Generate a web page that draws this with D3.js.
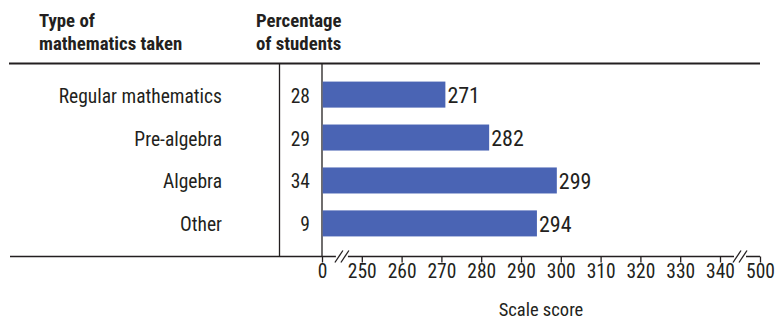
<!DOCTYPE html>
<html><head><meta charset="utf-8">
<script src="https://cdn.jsdelivr.net/npm/d3@7"></script>
<style>
body{margin:0;background:#fff;}
text{font-family:"Roboto Condensed","DejaVu Sans Condensed",sans-serif;fill:#231f20;}
</style></head>
<body><svg id="c" width="775" height="320"></svg>
<script>
const categories = ["Regular mathematics","Pre-algebra","Algebra","Other"];
const percentages = [28, 29, 34, 9];
const scores = [271, 282, 299, 294];
const tickValues = [0,250,260,270,280,290,300,310,320,330,340,500];

const svg = d3.select("#c");
const ink = "#231f20";
const barColor = "#4a64b4";

// broken axis: 0 -> break -> 250..340 -> break -> 500
const x = d3.scaleLinear().domain([0,240,340,500]).range([322,322,720,760]);
const y = d3.scaleBand().domain(categories).range([73,245]).paddingInner(0.394).paddingOuter(0.2);

// header
const hdr = svg.append("g").style("font-weight","bold").style("font-size","18.8px");
hdr.append("text").attr("x",39).attr("y",27).text("Type of");
hdr.append("text").attr("x",39).attr("y",50).text("mathematics taken");
hdr.append("text").attr("x",256).attr("y",27).text("Percentage");
hdr.append("text").attr("x",256).attr("y",50).text("of students");

// frame lines
svg.append("line").attr("x1",9).attr("x2",760).attr("y1",63.5).attr("y2",63.5).attr("stroke",ink).attr("stroke-width",2);
svg.append("line").attr("x1",279.5).attr("x2",279.5).attr("y1",63).attr("y2",257).attr("stroke",ink).attr("stroke-width",1.3);
svg.append("line").attr("x1",x(0)).attr("x2",x(0)).attr("y1",63).attr("y2",257).attr("stroke",ink).attr("stroke-width",1.3);

// bars
svg.selectAll("rect.bar").data(categories).enter().append("rect")
  .attr("class","bar")
  .attr("x",x(0)+0.7)
  .attr("y",d=>y(d))
  .attr("width",(d,i)=>x(scores[i])-x(0)-0.7)
  .attr("height",y.bandwidth())
  .attr("fill",barColor);

// value labels
svg.selectAll("text.val").data(categories).enter().append("text")
  .attr("class","val")
  .attr("x",(d,i)=>x(scores[i])+2)
  .attr("y",d=>y(d)+y.bandwidth()/2+8.5)
  .style("font-size","22px")
  .text((d,i)=>scores[i]);

// category labels
svg.selectAll("text.cat").data(categories).enter().append("text")
  .attr("class","cat")
  .attr("x",222).attr("text-anchor","end")
  .attr("y",d=>y(d)+y.bandwidth()/2+8)
  .style("font-size","19.5px")
  .text(d=>d);

// percentages
svg.selectAll("text.pct").data(categories).enter().append("text")
  .attr("class","pct")
  .attr("x",310).attr("text-anchor","end")
  .attr("y",d=>y(d)+y.bandwidth()/2+8)
  .style("font-size","19.5px")
  .text((d,i)=>percentages[i]);

// bottom axis
const axisY = 256.5;
const axis = d3.axisBottom(x).tickValues(tickValues).tickSize(6).tickPadding(1.5).tickFormat(d3.format("d"));
const ga = svg.append("g").attr("transform",`translate(0,${axisY})`).call(axis);
ga.attr("font-family",null).attr("font-size",null);
ga.select(".domain").remove();
ga.selectAll(".tick line").attr("stroke",ink).attr("stroke-width",1.3);
ga.selectAll(".tick text").style("font-size","19.5px").attr("fill",ink);
svg.append("line").attr("x1",10).attr("x2",760).attr("y1",axisY).attr("y2",axisY).attr("stroke",ink).attr("stroke-width",1.5);

// break marks
function brk(cx){
  svg.append("rect").attr("x",cx-6).attr("y",axisY-2).attr("width",12).attr("height",4).attr("fill","#fff");
  [-3,3].forEach(o=>{
    svg.append("line").attr("x1",cx+o-4).attr("y1",axisY+6).attr("x2",cx+o+4).attr("y2",axisY-6)
      .attr("stroke",ink).attr("stroke-width",1.3);
  });
}
brk((x(0)+x(250))/2);
brk((x(340)+x(500))/2);

svg.append("text").attr("x",541).attr("y",316).attr("text-anchor","middle").style("font-size","18.5px").text("Scale score");
</script></body></html>
